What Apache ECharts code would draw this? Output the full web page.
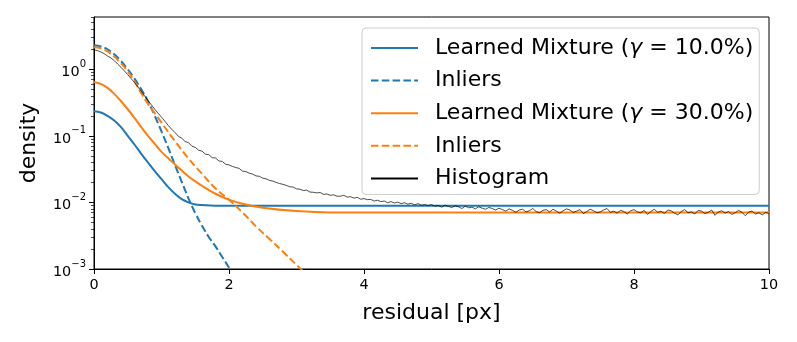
<!DOCTYPE html>
<html>
<head>
<meta charset="utf-8">
<title>Residual density</title>
<script src="https://cdn.jsdelivr.net/npm/echarts@6/dist/echarts.min.js"></script>
<style>
    html, body { margin: 0; padding: 0; background: #fff; }
    #chart { width: 797px; height: 342px; }
</style>
</head>
<body>
<div id="chart"></div>
<script>
// learned mixture, gamma = 10%
var mix10X = [0, 0.1, 0.2, 0.3, 0.4, 0.5, 0.6, 0.7, 0.8, 0.9, 1.0, 1.1, 1.2, 1.3, 1.4, 1.5, 1.6, 1.8, 2.0, 3, 4, 5, 6, 7, 8, 9, 10];
var mix10Y = [0.234, 0.224, 0.200, 0.170, 0.135, 0.100, 0.0741, 0.0537, 0.0398, 0.0295, 0.0224, 0.0170, 0.0135, 0.0112, 0.0100,
              0.00933, 0.00912, 0.00891, 0.00891, 0.00891, 0.00891, 0.00891, 0.00891, 0.00891, 0.00891, 0.00891, 0.00891];
// inliers, gamma = 10%
var in10X = [0, 0.1, 0.2, 0.3, 0.4, 0.5, 0.6, 0.7, 0.8, 0.9, 1.0, 1.1, 1.2, 1.3, 1.4, 1.5, 1.6, 1.7, 1.8, 1.9, 2.0, 2.1];
var in10Y = [2.29, 2.21, 2.0, 1.68, 1.33, 1.0, 0.724, 0.501, 0.331, 0.2, 0.117, 0.0661, 0.0363, 0.0204, 0.0115,
             0.00692, 0.00447, 0.00302, 0.00219, 0.00151, 0.00105, 0.000708];
// learned mixture, gamma = 30%
var mix30X = [0, 0.1, 0.2, 0.3, 0.4, 0.5, 0.6, 0.7, 0.8, 0.9, 1.0, 1.2, 1.4, 1.6, 1.8, 2.0, 2.2, 2.5, 3.0, 3.5, 4, 5, 6, 7, 8, 9, 10];
var mix30Y = [0.646, 0.603, 0.525, 0.427, 0.331, 0.251, 0.186, 0.135, 0.100, 0.0759, 0.0575, 0.0372, 0.0245, 0.0178, 0.0135,
              0.0110, 0.00955, 0.00832, 0.00741, 0.00708, 0.00708, 0.00708, 0.00708, 0.00708, 0.00708, 0.00708, 0.00708];
// inliers, gamma = 30%
var in30X = [0, 0.1, 0.2, 0.3, 0.4, 0.5, 0.6, 0.7, 0.8, 0.9, 1.0, 1.2, 1.4, 1.6, 1.8, 2.0, 2.2, 2.4, 2.6, 2.8, 3.0, 3.2];
var in30Y = [2.14, 2.07, 1.86, 1.55, 1.23, 0.933, 0.661, 0.437, 0.302, 0.219, 0.158, 0.0832, 0.0457, 0.0269, 0.0162,
             0.0110, 0.00708, 0.00437, 0.00282, 0.00182, 0.00115, 0.000741];
// histogram, bins of 0.05 px starting at 0
var histStep = 0.05;
var histY = [
    1.95, 1.91, 1.82, 1.72, 1.58, 1.48, 1.35, 1.20, 1.07, 0.944,
    0.832, 0.724, 0.631, 0.543, 0.468, 0.398, 0.339, 0.292, 0.251, 0.219,
    0.191, 0.166, 0.143, 0.126, 0.112, 0.0985, 0.0920, 0.0822, 0.0790, 0.0700,
    0.0671, 0.0608, 0.0590, 0.0530, 0.0522, 0.0470, 0.0465, 0.0420, 0.0412, 0.0375,
    0.0366, 0.0348, 0.0334, 0.0325, 0.0295, 0.0290, 0.0275, 0.0266, 0.0250, 0.0247,
    0.0231, 0.0226, 0.0214, 0.0209, 0.0200, 0.0192, 0.0187, 0.0180, 0.0172, 0.0170,
    0.0160, 0.0158, 0.0151, 0.0153, 0.0143, 0.0142, 0.0139, 0.0141, 0.0132, 0.0134,
    0.0128, 0.0130, 0.0124, 0.0124, 0.0128, 0.0120, 0.0122, 0.0116, 0.0119, 0.0112,
    0.0114, 0.0110, 0.0111, 0.0105, 0.0108, 0.0103, 0.0105, 0.0099, 0.0103, 0.0098,
    0.0101, 0.0096, 0.0099, 0.0094, 0.0097, 0.0092, 0.0096, 0.0091, 0.0093, 0.0090,
    0.0093, 0.0088, 0.0090, 0.0085, 0.0091, 0.0087, 0.0084, 0.0089, 0.0086, 0.0081,
    0.0088, 0.0083, 0.0085, 0.0080, 0.0086, 0.0082, 0.0079, 0.0084, 0.0081, 0.0077,
    0.0082, 0.0078, 0.0074, 0.0080, 0.0076, 0.0071, 0.0077, 0.0079, 0.0072, 0.0075,
    0.0081, 0.0073, 0.0070, 0.0076, 0.0078, 0.0072, 0.0079, 0.0074, 0.0069, 0.0075,
    0.0080, 0.0077, 0.0071, 0.0074, 0.0078, 0.0068, 0.0073, 0.0079, 0.0075, 0.0070,
    0.0072, 0.0077, 0.0081, 0.0071, 0.0074, 0.0069, 0.0076, 0.0073, 0.0067, 0.0075,
    0.0078, 0.0072, 0.0070, 0.0076, 0.0066, 0.0073, 0.0079, 0.0071, 0.0074, 0.0068,
    0.0077, 0.0075, 0.0069, 0.0065, 0.0073, 0.0078, 0.0070, 0.0072, 0.0067, 0.0076,
    0.0074, 0.0068, 0.0071, 0.0077, 0.0064, 0.0072, 0.0075, 0.0069, 0.0073, 0.0066,
    0.0070, 0.0076, 0.0071, 0.0063, 0.0072, 0.0074, 0.0067, 0.0070, 0.0065, 0.0071,
    0.0068
];

var yMax = 6.1;
var majorTicks = [-3, -2, -1, 0];
var minorTicks = [];
for (var e = -3; e <= 0; e++) {
    for (var k = 2; k <= 9; k++) {
        var t = e + Math.log10(k);
        if (t <= Math.log10(yMax)) minorTicks.push(t);
    }
}

function pairs(xs, ys) {
    return xs.map(function (x, i) { return [x, ys[i]]; });
}
var histData = histY.map(function (y, i) { return [+(i * histStep).toFixed(2), y]; });

var font = 'DejaVu Sans';
var blue = '#1f77b4', orange = '#ff7f0e';

var myChart = echarts.init(document.getElementById('chart'), null, { renderer: 'canvas' });

option = {
    animation: false,
    backgroundColor: '#fff',
    grid: {
        left: 94, right: 28, top: 17, bottom: 73,
        show: true, borderColor: '#000', borderWidth: 1, backgroundColor: 'transparent'
    },
    legend: {
        orient: 'vertical',
        left: 362, top: 28,
        padding: [8, 6, 4, 8],
        itemWidth: 47, itemHeight: 14, itemGap: 8.6,
        backgroundColor: 'rgba(255,255,255,0.8)',
        borderColor: '#cccccc', borderWidth: 1, borderRadius: 4,
        itemStyle: { opacity: 0 },
        data: ['Learned Mixture (γ = 10.0%)', 'Inliers', 'Learned Mixture (γ = 30.0%)', 'Inliers ', 'Histogram'],
        formatter: function (name) {
            return name.replace(/\s+$/, '').replace('γ', '{g|γ}');
        },
        textStyle: {
            fontFamily: font, fontSize: 22, color: '#000', lineHeight: 24,
            padding: [0, 0, 0, 12],
            rich: { g: { fontFamily: font, fontSize: 22, fontStyle: 'italic', color: '#000' } }
        }
    },
    xAxis: {
        type: 'value', min: 0, max: 10, interval: 2,
        name: 'residual [px]', nameLocation: 'middle', nameGap: 33,
        nameTextStyle: { fontFamily: font, fontSize: 22, color: '#000' },
        axisLine: { show: true, onZero: false, lineStyle: { color: '#000', width: 1 } },
        axisTick: { show: true, length: 5, lineStyle: { color: '#000', width: 1 } },
        axisLabel: { fontFamily: font, fontSize: 14.4, color: '#000', margin: 9 },
        splitLine: { show: false }
    },
    yAxis: [{
        type: 'log', logBase: 10, min: 0.001, max: yMax, show: false
    }, {
        type: 'value', min: -3, max: Math.log10(yMax), position: 'left',
        name: 'density', nameLocation: 'middle', nameGap: 54,
        nameTextStyle: { fontFamily: font, fontSize: 22, color: '#000' },
        axisLine: { show: true, onZero: false, lineStyle: { color: '#000', width: 1 } },
        axisTick: { show: true, length: 5, customValues: majorTicks, lineStyle: { color: '#000', width: 1 } },
        axisLabel: {
            customValues: majorTicks, margin: 8,
            formatter: function (v) {
                var e = Math.round(v);
                return '{b|10}{s|' + (e < 0 ? '\u2212' + (-e) : e) + '}';
            },
            rich: {
                b: { fontFamily: font, fontSize: 14.4, color: '#000', lineHeight: 20, verticalAlign: 'bottom' },
                s: { fontFamily: font, fontSize: 10, color: '#000', lineHeight: 12, verticalAlign: 'top' }
            }
        },
        splitLine: { show: false }
    }, {
        type: 'value', min: -3, max: Math.log10(yMax), position: 'left',
        axisLine: { show: false, onZero: false },
        axisTick: { show: true, length: 3, customValues: minorTicks, lineStyle: { color: '#000', width: 0.7 } },
        axisLabel: { show: false },
        splitLine: { show: false }
    }],
    series: [{
        name: 'Learned Mixture (γ = 10.0%)', type: 'line', yAxisIndex: 0,
        data: pairs(mix10X, mix10Y), symbol: 'none', smooth: 0.4,
        lineStyle: { color: blue, width: 2 }, itemStyle: { color: blue }
    }, {
        name: 'Inliers', type: 'line', yAxisIndex: 0,
        data: pairs(in10X, in10Y), symbol: 'none', smooth: 0.4,
        lineStyle: { color: blue, width: 2, type: [7.5, 3.3] }, itemStyle: { color: blue }
    }, {
        name: 'Learned Mixture (γ = 30.0%)', type: 'line', yAxisIndex: 0,
        data: pairs(mix30X, mix30Y), symbol: 'none', smooth: 0.4,
        lineStyle: { color: orange, width: 2 }, itemStyle: { color: orange }
    }, {
        name: 'Inliers ', type: 'line', yAxisIndex: 0,
        data: pairs(in30X, in30Y), symbol: 'none', smooth: 0.4,
        lineStyle: { color: orange, width: 2, type: [7.5, 3.3] }, itemStyle: { color: orange }
    }, {
        name: 'Histogram', type: 'line', yAxisIndex: 0,
        data: histData, symbol: 'none',
        lineStyle: { color: '#000', width: 0.7 }, itemStyle: { color: '#000' }
    }]
};
myChart.setOption(option);
</script>
</body>
</html>
